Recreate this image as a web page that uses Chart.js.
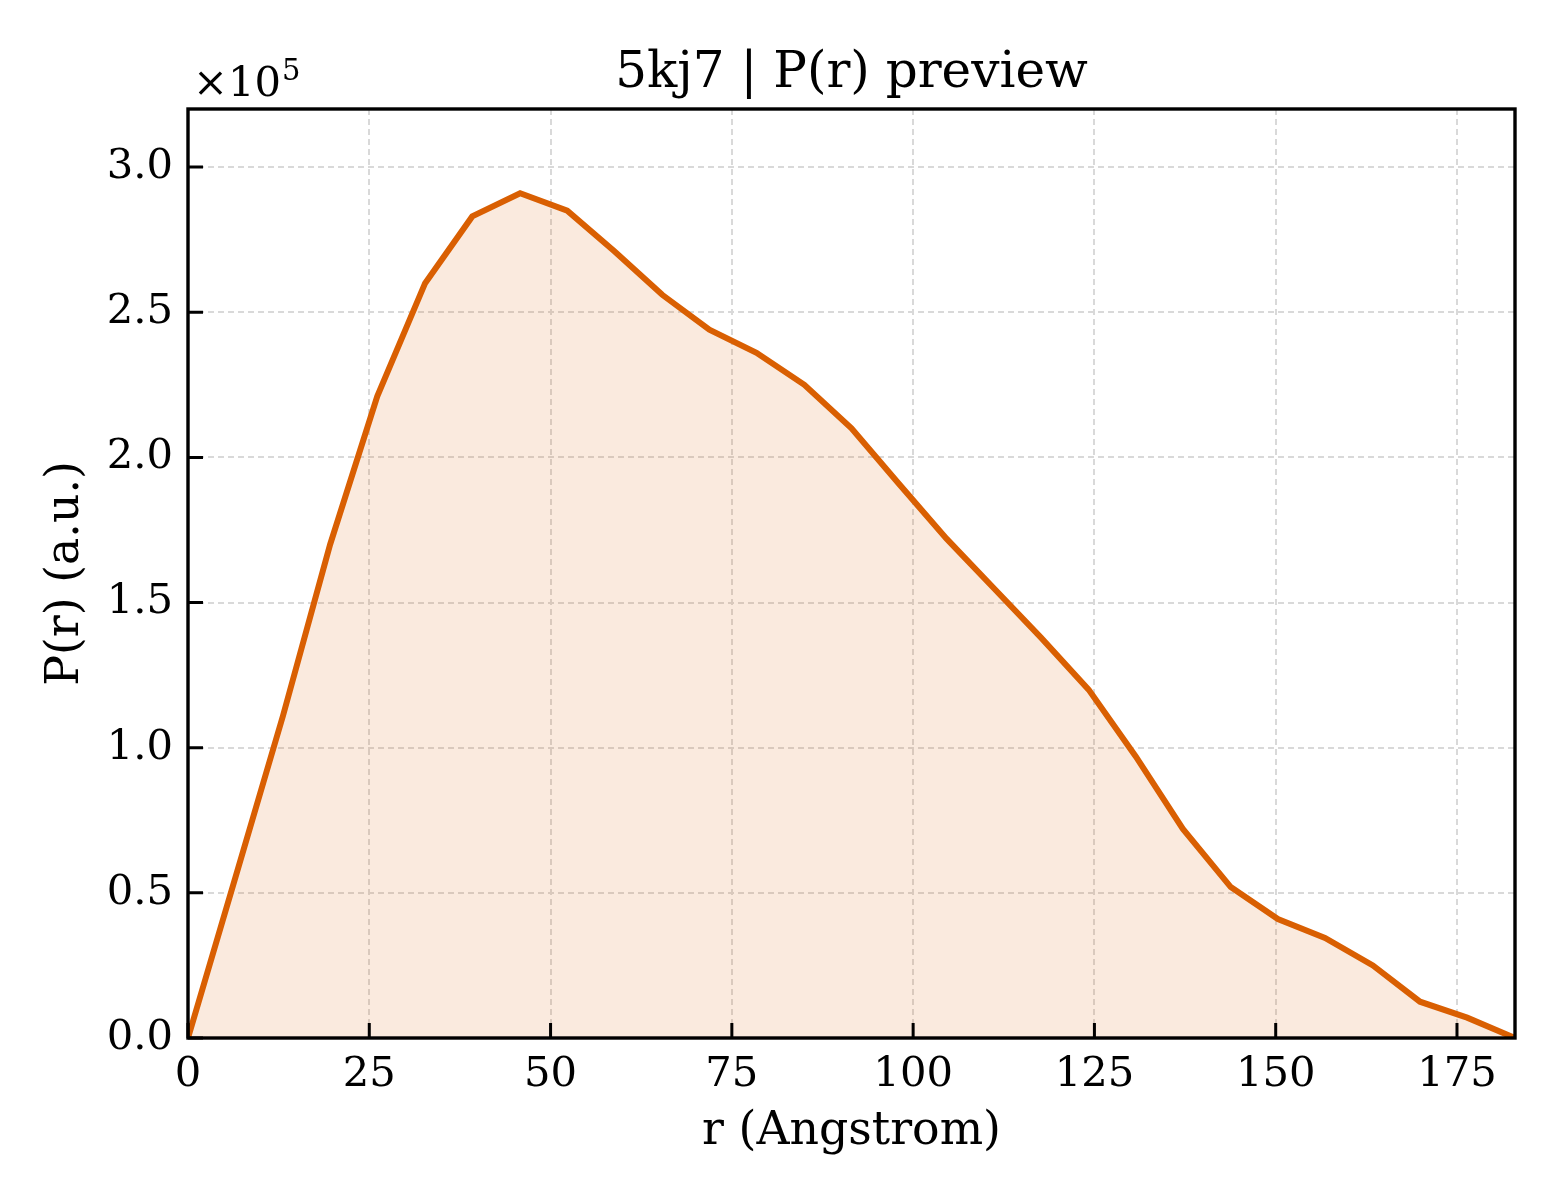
<!DOCTYPE html>
<html>
<head>
<meta charset="utf-8">
<script src="https://cdn.jsdelivr.net/npm/chart.js@4.4.1/dist/chart.umd.min.js"></script>
<style>
  html, body { margin: 0; padding: 0; background: #ffffff; }
  #wrap { width: 1560px; height: 1200px; }
</style>
</head>
<body>
<div id="wrap"><canvas id="pr" width="1560" height="1200"></canvas></div>
<script>
// P(r) curve
const rValues = [0, 6.5, 13.1, 19.6, 26.1, 32.7, 39.2, 45.8, 52.3, 58.8, 65.4, 71.9, 78.4, 85.0,
  91.5, 98.0, 104.6, 111.1, 117.6, 124.2, 130.7, 137.2, 143.8, 150.3, 156.8, 163.4, 169.9, 176.4, 183.0];
const prValues = [0, 55000, 111000, 170000, 221000, 260000, 283000, 291000, 285000, 271000, 256000,
  244000, 236000, 225000, 210000, 191000, 172000, 155000, 138000, 120000, 97000, 72000, 52000,
  41000, 34500, 25000, 12500, 7000, 0];
const xTicks = [0, 25, 50, 75, 100, 125, 150, 175];
const yTicks = [0, 50000, 100000, 150000, 200000, 250000, 300000];
const chartTitle = '5kj7 | P(r) preview';

const SERIF = '"DejaVu Serif", "Liberation Serif", serif';
const ORANGE = '#d95f02';

// matplotlib-ish frame: box on all sides, inward ticks on left and bottom,
// title centred over the axes and the x10^5 offset text
const framePlugin = {
  id: 'frame',
  afterDatasetsDraw(chart) {
    const { ctx, chartArea: a, scales } = chart;
    ctx.save();
    ctx.strokeStyle = '#000';
    ctx.lineWidth = 3;
    ctx.beginPath();
    xTicks.forEach(v => {
      const px = scales.x.getPixelForValue(v);
      ctx.moveTo(px, a.bottom);
      ctx.lineTo(px, a.bottom - 15);
    });
    yTicks.forEach(v => {
      const py = scales.y.getPixelForValue(v);
      ctx.moveTo(a.left, py);
      ctx.lineTo(a.left + 15, py);
    });
    ctx.stroke();
    ctx.lineWidth = 3.4;
    ctx.strokeRect(a.left, a.top, a.right - a.left, a.bottom - a.top);

    ctx.fillStyle = '#000';
    ctx.textBaseline = 'alphabetic';

    ctx.textAlign = 'center';
    ctx.font = '50px ' + SERIF;
    ctx.fillText(chartTitle, (a.left + a.right) / 2, a.top - 22);

    ctx.textAlign = 'left';
    ctx.font = '41.7px ' + SERIF;
    ctx.fillText('\u00d710', a.left + 5, a.top - 13);
    const w = ctx.measureText('\u00d710').width;
    ctx.font = '29px ' + SERIF;
    ctx.fillText('5', a.left + 5 + w + 1, a.top - 29);
    ctx.restore();
  }
};

new Chart(document.getElementById('pr'), {
  type: 'line',
  data: {
    datasets: [{
      data: rValues.map((r, i) => ({ x: r, y: prValues[i] })),
      borderColor: ORANGE,
      borderWidth: 6,
      backgroundColor: 'rgba(217, 95, 2, 0.13)',
      fill: 'origin',
      pointRadius: 0,
      tension: 0
    }]
  },
  options: {
    responsive: false,
    animation: false,
    layout: { padding: { left: 0, right: 45, top: 109, bottom: 0 } },
    plugins: {
      legend: { display: false },
      tooltip: { enabled: false },
      title: { display: false }
    },
    scales: {
      x: {
        type: 'linear',
        min: 0,
        max: 183,
        afterFit: s => { s.height = 162; },
        afterBuildTicks: s => { s.ticks = xTicks.map(v => ({ value: v })); },
        ticks: {
          color: '#000',
          padding: 12,
          maxRotation: 0,
          font: { family: SERIF, size: 41.7 }
        },
        grid: { color: '#d9d9d9', lineWidth: 2, drawTicks: false },
        border: { display: false, dash: [6, 4] },
        title: {
          display: true,
          text: 'r (Angstrom)',
          color: '#000',
          font: { family: SERIF, size: 45.8 },
          padding: { top: 0, bottom: 40 }
        }
      },
      y: {
        min: 0,
        max: 320000,
        afterFit: s => { s.width = 188; },
        afterBuildTicks: s => { s.ticks = yTicks.map(v => ({ value: v })); },
        ticks: {
          color: '#000',
          padding: 15,
          font: { family: SERIF, size: 41.7 },
          callback: v => (v / 100000).toFixed(1)
        },
        grid: { color: '#d9d9d9', lineWidth: 2, drawTicks: false },
        border: { display: false, dash: [6, 4] },
        title: {
          display: true,
          text: 'P(r) (a.u.)',
          color: '#000',
          font: { family: SERIF, size: 45.8 },
          padding: { top: 39, bottom: 0 }
        }
      }
    }
  },
  plugins: [framePlugin]
});
</script>
</body>
</html>
